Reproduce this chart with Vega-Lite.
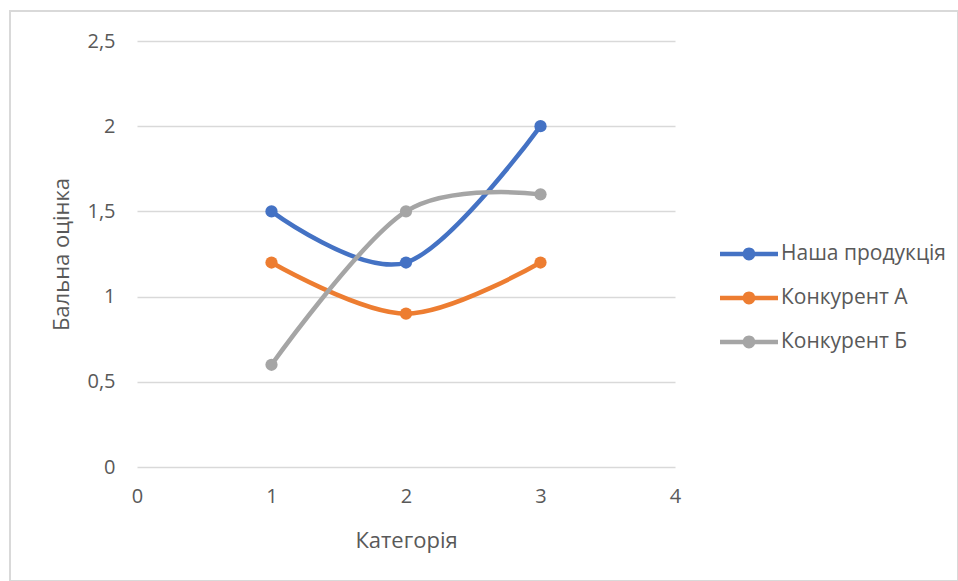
{
  "$schema": "https://vega.github.io/schema/vega-lite/v6.json",
  "autosize": {"type": "none"},
  "padding": {"left": 10, "top": 11, "right": 0, "bottom": 0},
  "width": 948,
  "height": 570,
  "background": "white",
  "config": {
    "view": {"stroke": "#D9D9D9", "strokeWidth": 2},
    "font": "Open Sans",
    "axis": {
      "labelFont": "Open Sans",
      "titleFont": "Open Sans",
      "labelColor": "#595959",
      "titleColor": "#595959",
      "labelFontSize": 20,
      "titleFontSize": 22,
      "titleFontWeight": "normal",
      "labelFlush": false,
      "domain": false,
      "ticks": false
    },
    "legend": {
      "labelFont": "Open Sans",
      "labelFontSize": 21,
      "labelColor": "#595959",
      "labelLimit": 300
    }
  },
  "data": {
    "values": [
      {"Категорія": 1, "Оцінка": 1.5, "Серія": "Наша продукція"},
      {"Категорія": 2, "Оцінка": 1.2, "Серія": "Наша продукція"},
      {"Категорія": 3, "Оцінка": 2.0, "Серія": "Наша продукція"},
      {"Категорія": 1, "Оцінка": 1.2, "Серія": "Конкурент А"},
      {"Категорія": 2, "Оцінка": 0.9, "Серія": "Конкурент А"},
      {"Категорія": 3, "Оцінка": 1.2, "Серія": "Конкурент А"},
      {"Категорія": 1, "Оцінка": 0.6, "Серія": "Конкурент Б"},
      {"Категорія": 2, "Оцінка": 1.5, "Серія": "Конкурент Б"},
      {"Категорія": 3, "Оцінка": 1.6, "Серія": "Конкурент Б"}
    ]
  },
  "encoding": {
    "x": {
      "field": "Категорія",
      "type": "quantitative",
      "scale": {"domain": [0, 4], "range": [127, 665], "nice": false},
      "axis": {
        "title": "Категорія",
        "values": [0, 1, 2, 3, 4],
        "grid": false,
        "offset": -114,
        "labelPadding": 19,
        "titleY": 80,
        "titleBaseline": "alphabetic"
      }
    },
    "y": {
      "field": "Оцінка",
      "type": "quantitative",
      "scale": {"domain": [0, 2.5], "range": [456, 30], "nice": false, "zero": true},
      "axis": {
        "title": "Бальна оцінка",
        "values": [0, 0.5, 1, 1.5, 2, 2.5],
        "format": "~g",
        "labelExpr": "replace(datum.label, '.', ',')",
        "grid": true,
        "gridColor": "#D9D9D9",
        "gridWidth": 1.5,
        "offset": -127,
        "labelPadding": 22,
        "titleX": -69,
        "titleY": 243,
        "titleAngle": -90,
        "titleAlign": "center",
        "titleBaseline": "alphabetic"
      }
    },
    "color": {
      "field": "Серія",
      "type": "nominal",
      "scale": {
        "domain": ["Наша продукція", "Конкурент А", "Конкурент Б"],
        "range": ["#4472C4", "#ED7D31", "#A5A5A5"]
      },
      "legend": {
        "title": null,
        "orient": "none",
        "legendX": 710,
        "legendY": 221,
        "padding": 0,
        "symbolType": "M-1,-0.08H1V0.08H-1Z M-0.22,0A0.22,0.22 0 1,1 0.22,0A0.22,0.22 0 1,1 -0.22,0Z",
        "symbolSize": 3364,
        "symbolStrokeWidth": 0,
        "labelOffset": 3,
        "clipHeight": 44,
        "rowPadding": 0,
        "encode": {
          "symbols": {
            "update": {
              "fill": {"scale": "color", "field": "value"},
              "stroke": {"value": "transparent"},
              "strokeWidth": {"value": 0},
              "opacity": {"value": 1}
            }
          }
        }
      }
    }
  },
  "layer": [
    {
      "mark": {"type": "line", "interpolate": "cardinal", "strokeWidth": 4.5, "strokeCap": "round"}
    },
    {
      "mark": {"type": "point", "filled": true, "size": 150, "opacity": 1}
    }
  ]
}
